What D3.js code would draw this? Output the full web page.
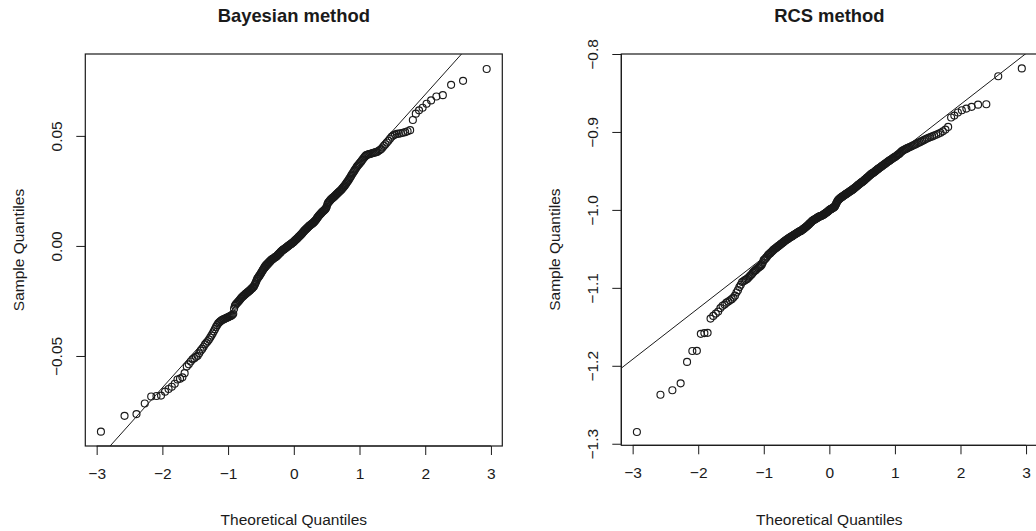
<!DOCTYPE html>
<html><head><meta charset="utf-8">
<script src="https://cdn.jsdelivr.net/npm/d3@7"></script>
<style>
html,body{margin:0;padding:0;background:#fff;}
svg{display:block;}
text{font-family:"Liberation Sans",Arial,Helvetica,sans-serif;fill:#1a1a1a;}
</style></head>
<body>
<svg id="chart" width="1036" height="531"></svg>
<script>
// ---------------- data ----------------
const panelTitles = ["Bayesian method", "RCS method"];
const xTickValues = [-3, -2, -1, 0, 1, 2, 3];
const xTickLabels = ["\u22123", "\u22122", "\u22121", "0", "1", "2", "3"];
const leftYTickValues = [-0.05, 0, 0.05];
const leftYTickLabels = ["\u22120.05", "0.00", "0.05"];
const rightYTickValues = [-1.3, -1.2, -1.1, -1.0, -0.9, -0.8];
const rightYTickLabels = ["\u22121.3", "\u22121.2", "\u22121.1", "\u22121.0", "\u22120.9", "\u22120.8"];
const xAxisTitle = "Theoretical Quantiles";
const yAxisTitle = "Sample Quantiles";

// sorted sample quantiles (n = 300), Bayesian method
const bayesSample = [
-0.0844,-0.0772,-0.0764,-0.0716,-0.0684,-0.0682,-0.0680,-0.0662,-0.0650,-0.0640,
-0.0626,-0.0607,-0.0603,-0.0597,-0.0578,-0.0548,-0.0538,-0.0525,-0.0515,-0.0510,
-0.0504,-0.0499,-0.0488,-0.0476,-0.0468,-0.0458,-0.0447,-0.0440,-0.0433,-0.0425,
-0.0416,-0.0407,-0.0398,-0.0388,-0.0378,-0.0368,-0.0360,-0.0352,-0.0347,-0.0343,
-0.0339,-0.0336,-0.0334,-0.0332,-0.0330,-0.0328,-0.0326,-0.0324,-0.0322,-0.0320,
-0.0318,-0.0316,-0.0313,-0.0308,-0.0285,-0.0272,-0.0266,-0.0262,-0.0258,-0.0254,
-0.0250,-0.0246,-0.0241,-0.0237,-0.0233,-0.0230,-0.0227,-0.0224,-0.0221,-0.0218,
-0.0215,-0.0213,-0.0210,-0.0207,-0.0205,-0.0202,-0.0199,-0.0196,-0.0193,-0.0190,
-0.0187,-0.0184,-0.0178,-0.0172,-0.0165,-0.0158,-0.0150,-0.0146,-0.0142,-0.0138,
-0.0134,-0.0129,-0.0125,-0.0120,-0.0115,-0.0110,-0.0106,-0.0101,-0.0097,-0.0092,
-0.0089,-0.0086,-0.0083,-0.0081,-0.0078,-0.0075,-0.0072,-0.0070,-0.0067,-0.0064,
-0.0062,-0.0060,-0.0059,-0.0057,-0.0055,-0.0053,-0.0051,-0.0050,-0.0048,-0.0046,
-0.0043,-0.0040,-0.0038,-0.0035,-0.0032,-0.0030,-0.0027,-0.0025,-0.0022,-0.0020,
-0.0018,-0.0016,-0.0015,-0.0013,-0.0011,-0.0009,-0.0007,-0.0005,-0.0003,-0.0001,
0.0001,0.0003,0.0005,0.0006,0.0008,0.0010,0.0012,0.0014,0.0016,0.0018,
0.0020,0.0023,0.0025,0.0028,0.0030,0.0032,0.0035,0.0037,0.0040,0.0042,
0.0045,0.0047,0.0050,0.0052,0.0055,0.0058,0.0061,0.0064,0.0067,0.0070,
0.0072,0.0075,0.0077,0.0080,0.0082,0.0085,0.0087,0.0090,0.0092,0.0094,
0.0096,0.0098,0.0100,0.0102,0.0104,0.0107,0.0109,0.0112,0.0115,0.0118,
0.0122,0.0126,0.0130,0.0133,0.0137,0.0140,0.0143,0.0146,0.0149,0.0152,
0.0155,0.0157,0.0160,0.0162,0.0165,0.0168,0.0172,0.0178,0.0188,0.0195,
0.0198,0.0202,0.0205,0.0209,0.0212,0.0215,0.0217,0.0220,0.0222,0.0225,
0.0228,0.0231,0.0234,0.0237,0.0240,0.0243,0.0246,0.0249,0.0252,0.0255,
0.0259,0.0263,0.0267,0.0271,0.0275,0.0280,0.0285,0.0290,0.0295,0.0300,
0.0306,0.0312,0.0318,0.0324,0.0330,0.0336,0.0342,0.0348,0.0354,0.0360,
0.0365,0.0370,0.0375,0.0380,0.0385,0.0391,0.0397,0.0403,0.0408,0.0413,
0.0414,0.0416,0.0417,0.0419,0.0420,0.0422,0.0423,0.0425,0.0426,0.0428,
0.0432,0.0436,0.0440,0.0447,0.0455,0.0462,0.0470,0.0478,0.0487,0.0496,
0.0502,0.0506,0.0509,0.0510,0.0512,0.0514,0.0517,0.0521,0.0526,0.0572,
0.0601,0.0616,0.0628,0.0646,0.0661,0.0679,0.0685,0.0732,0.0750,0.0804
];

// sorted sample quantiles (n = 300), RCS method
const rcsSample = [
-1.2850,-1.2372,-1.2314,-1.2225,-1.1950,-1.1810,-1.1808,-1.1590,-1.1580,-1.1577,
-1.1394,-1.1360,-1.1330,-1.1305,-1.1260,-1.1230,-1.1215,-1.1190,-1.1175,-1.1160,
-1.1145,-1.1125,-1.1100,-1.1060,-1.1030,-1.0990,-1.0960,-1.0925,-1.0915,-1.0905,
-1.0895,-1.0885,-1.0870,-1.0855,-1.0840,-1.0825,-1.0805,-1.0790,-1.0780,-1.0770,
-1.0755,-1.0745,-1.0735,-1.0725,-1.0715,-1.0700,-1.0675,-1.0645,-1.0635,-1.0625,
-1.0610,-1.0595,-1.0580,-1.0570,-1.0560,-1.0550,-1.0540,-1.0530,-1.0520,-1.0510,
-1.0502,-1.0495,-1.0488,-1.0480,-1.0472,-1.0465,-1.0458,-1.0450,-1.0443,-1.0435,
-1.0428,-1.0421,-1.0414,-1.0407,-1.0400,-1.0393,-1.0386,-1.0380,-1.0375,-1.0370,
-1.0362,-1.0357,-1.0352,-1.0347,-1.0342,-1.0337,-1.0332,-1.0326,-1.0320,-1.0315,
-1.0310,-1.0306,-1.0300,-1.0295,-1.0290,-1.0285,-1.0280,-1.0276,-1.0273,-1.0270,
-1.0265,-1.0259,-1.0253,-1.0247,-1.0241,-1.0235,-1.0229,-1.0222,-1.0216,-1.0210,
-1.0203,-1.0197,-1.0190,-1.0183,-1.0176,-1.0169,-1.0162,-1.0155,-1.0147,-1.0140,
-1.0135,-1.0131,-1.0127,-1.0122,-1.0118,-1.0113,-1.0109,-1.0104,-1.0100,-1.0095,
-1.0090,-1.0087,-1.0084,-1.0081,-1.0078,-1.0075,-1.0072,-1.0069,-1.0065,-1.0060,
-1.0055,-1.0050,-1.0045,-1.0040,-1.0035,-1.0030,-1.0025,-1.0019,-1.0012,-1.0005,
-1.0000,-0.9995,-0.9991,-0.9987,-0.9983,-0.9979,-0.9975,-0.9970,-0.9965,-0.9960,
-0.9950,-0.9935,-0.9920,-0.9905,-0.9890,-0.9880,-0.9872,-0.9865,-0.9857,-0.9850,
-0.9845,-0.9840,-0.9835,-0.9830,-0.9825,-0.9820,-0.9815,-0.9810,-0.9805,-0.9800,
-0.9795,-0.9790,-0.9785,-0.9780,-0.9775,-0.9770,-0.9765,-0.9760,-0.9755,-0.9750,
-0.9745,-0.9740,-0.9734,-0.9728,-0.9722,-0.9716,-0.9710,-0.9703,-0.9697,-0.9690,
-0.9683,-0.9677,-0.9671,-0.9665,-0.9659,-0.9653,-0.9647,-0.9641,-0.9636,-0.9630,
-0.9622,-0.9615,-0.9607,-0.9600,-0.9593,-0.9585,-0.9578,-0.9571,-0.9563,-0.9555,
-0.9548,-0.9541,-0.9535,-0.9529,-0.9523,-0.9517,-0.9510,-0.9503,-0.9496,-0.9488,
-0.9481,-0.9474,-0.9467,-0.9460,-0.9453,-0.9446,-0.9439,-0.9432,-0.9425,-0.9418,
-0.9410,-0.9402,-0.9395,-0.9387,-0.9380,-0.9372,-0.9365,-0.9357,-0.9350,-0.9342,
-0.9335,-0.9327,-0.9320,-0.9312,-0.9303,-0.9294,-0.9285,-0.9275,-0.9262,-0.9250,
-0.9240,-0.9232,-0.9225,-0.9218,-0.9211,-0.9204,-0.9197,-0.9190,-0.9183,-0.9175,
-0.9168,-0.9160,-0.9152,-0.9143,-0.9134,-0.9125,-0.9115,-0.9105,-0.9095,-0.9085,
-0.9075,-0.9066,-0.9057,-0.9047,-0.9036,-0.9024,-0.9010,-0.8992,-0.8970,-0.8935,
-0.8815,-0.8790,-0.8750,-0.8722,-0.8700,-0.8678,-0.8650,-0.8645,-0.8286,-0.8185
];

// reference (qqline) intercept and slope
const bayesLine = [0.0022, 0.0333];
const rcsLine = [-0.9955, 0.0654];

// axis ranges of each panel
const xDomain = [-3.173, 3.173];
const leftYDomain = [-0.0909, 0.0872];
const rightYDomain = [-1.302, -0.8];

// ---------------- normal quantile (qqnorm positions) ----------------
function qnorm(p){
  const a=[-3.969683028665376e+01,2.209460984245205e+02,-2.759285104469687e+02,1.383577518672690e+02,-3.066479806614716e+01,2.506628277459239e+00];
  const b=[-5.447609879822406e+01,1.615858368580409e+02,-1.556989798598866e+02,6.680131188771972e+01,-1.328068155288572e+01];
  const c=[-7.784894002430293e-03,-3.223964580411365e-01,-2.400758277161838e+00,-2.549732539343734e+00,4.374664141464968e+00,2.938163982698783e+00];
  const d=[7.784695709041462e-03,3.224671290700398e-01,2.445134137142996e+00,3.754408661907416e+00];
  const pl=0.02425, ph=1-pl;
  if(p<pl){const q=Math.sqrt(-2*Math.log(p));return (((((c[0]*q+c[1])*q+c[2])*q+c[3])*q+c[4])*q+c[5])/((((d[0]*q+d[1])*q+d[2])*q+d[3])*q+1);}
  if(p<=ph){const q=p-0.5,r=q*q;return (((((a[0]*r+a[1])*r+a[2])*r+a[3])*r+a[4])*r+a[5])*q/(((((b[0]*r+b[1])*r+b[2])*r+b[3])*r+b[4])*r+1);}
  const q=Math.sqrt(-2*Math.log(1-p));return -(((((c[0]*q+c[1])*q+c[2])*q+c[3])*q+c[4])*q+c[5])/((((d[0]*q+d[1])*q+d[2])*q+d[3])*q+1);
}
function ppoints(n){ const a = n <= 10 ? 3/8 : 0.5; return d3.range(1, n+1).map(i => (i - a)/(n + 1 - 2*a)); }

// ---------------- drawing ----------------
const svg = d3.select("#chart");
const FS = 15.5;
const INK = "#1a1a1a";

const panels = [
  {title: panelTitles[0], sample: bayesSample, line: bayesLine, yDomain: leftYDomain,
   yTicks: leftYTickValues, yLabels: leftYTickLabels,
   box: {x0: 85.3, x1: 502.3, y0: 54, y1: 446}},
  {title: panelTitles[1], sample: rcsSample, line: rcsLine, yDomain: rightYDomain,
   yTicks: rightYTickValues, yLabels: rightYTickLabels,
   box: {x0: 621.3, x1: 1037.4, y0: 54, y1: 445.3}}
];

panels.forEach((P, pi) => {
  const b = P.box;
  const x = d3.scaleLinear().domain(xDomain).range([b.x0, b.x1]);
  const y = d3.scaleLinear().domain(P.yDomain).range([b.y1, b.y0]);
  const g = svg.append("g");
  const clipId = "clip" + pi;
  g.append("clipPath").attr("id", clipId).append("rect")
    .attr("x", b.x0).attr("y", b.y0).attr("width", b.x1 - b.x0).attr("height", b.y1 - b.y0);

  const n = P.sample.length;
  const theo = ppoints(n).map(qnorm);
  const pts = P.sample.map((v, i) => ({t: theo[i], v}));

  // qqline
  const [ic, sl] = P.line;
  g.append("line").attr("clip-path", `url(#${clipId})`)
    .attr("x1", x(xDomain[0])).attr("y1", y(ic + sl*xDomain[0]))
    .attr("x2", x(xDomain[1])).attr("y2", y(ic + sl*xDomain[1]))
    .attr("stroke", INK).attr("stroke-width", 1);

  // points
  g.append("g").selectAll("circle").data(pts).join("circle")
    .attr("cx", d => x(d.t)).attr("cy", d => y(d.v)).attr("r", 3.5)
    .attr("fill", "none").attr("stroke", INK).attr("stroke-width", 1.15);

  // box
  g.append("rect").attr("x", b.x0).attr("y", b.y0)
    .attr("width", b.x1 - b.x0).attr("height", b.y1 - b.y0)
    .attr("fill", "none").attr("stroke", INK).attr("stroke-width", 1.2);

  // x axis
  const xa = g.append("g").attr("transform", `translate(0,${b.y1})`)
    .call(d3.axisBottom(x).tickValues(xTickValues).tickSizeOuter(0).tickSizeInner(9)
      .tickPadding(13).tickFormat((d, i) => xTickLabels[i]));
  xa.select(".domain").attr("d", `M${x(xTickValues[0])},0H${x(xTickValues[xTickValues.length-1])}`)
    .attr("stroke", INK);
  xa.selectAll(".tick line").attr("stroke", INK);
  xa.selectAll(".tick text").attr("font-size", FS).attr("fill", INK)
    .attr("font-family", '"Liberation Sans",Arial,Helvetica,sans-serif');

  // y axis (labels parallel to axis, as R's las = 0)
  const ya = g.append("g").attr("transform", `translate(${b.x0},0)`)
    .call(d3.axisLeft(y).tickValues(P.yTicks).tickSizeOuter(0).tickSizeInner(9)
      .tickFormat((d, i) => P.yLabels[i]));
  ya.select(".domain").attr("d", `M0,${y(P.yTicks[0])}V${y(P.yTicks[P.yTicks.length-1])}`)
    .attr("stroke", INK);
  ya.selectAll(".tick line").attr("stroke", INK);
  ya.selectAll(".tick text")
    .attr("x", null).attr("dy", null)
    .attr("transform", "translate(-29,0) rotate(-90)")
    .attr("text-anchor", "middle").attr("dy", "0.35em")
    .attr("font-size", FS).attr("fill", INK)
    .attr("font-family", '"Liberation Sans",Arial,Helvetica,sans-serif');

  // titles
  const cx = (b.x0 + b.x1) / 2;
  g.append("text").attr("x", cx).attr("y", 16).attr("dy", "0.35em")
    .attr("text-anchor", "middle").attr("font-weight", "bold").attr("font-size", 18.4)
    .text(P.title);
  g.append("text").attr("x", cx).attr("y", 520).attr("dy", "0.35em")
    .attr("text-anchor", "middle").attr("font-size", FS).text(xAxisTitle);
  g.append("text").attr("transform", `translate(${b.x0 - 67},${(b.y0 + b.y1)/2}) rotate(-90)`)
    .attr("dy", "0.35em").attr("text-anchor", "middle").attr("font-size", FS).text(yAxisTitle);
});
</script>
</body></html>
